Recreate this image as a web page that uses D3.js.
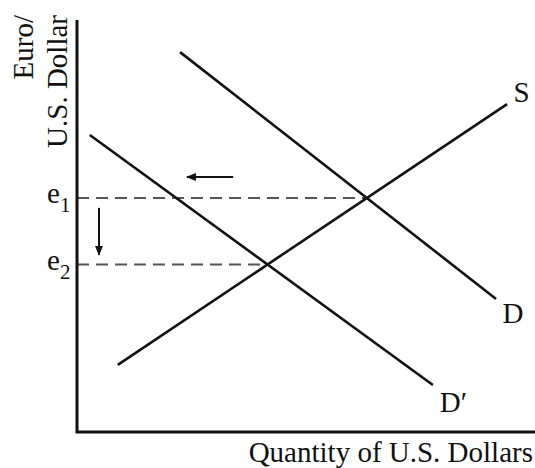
<!DOCTYPE html>
<html>
<head>
<meta charset="utf-8">
<script src="https://cdn.jsdelivr.net/npm/d3@7"></script>
<style>
  body { margin: 0; background: #fff; }
  text { font-family: "Liberation Serif", "Times New Roman", serif; fill: #111; }
</style>
</head>
<body>
<div id="chart"></div>
<script>
// curves in abstract units (0-100 on both axes)
var supply = [[8.9, 16.3], [93.9, 79.6]];
var demand = [[22.5, 92.2], [91.5, 32.3]];
var demandNew = [[2.8, 72.1], [77.7, 11.4]];
var curveLabels = [
    {text: "S", x: 95.3, y: 80.1},
    {text: "D", x: 92.9, y: 26.5},
    {text: "D\u2032", x: 79.2, y: 4.9}
];
var shiftArrow = [[34.1, 61.9], [24.0, 61.9]];
var dropArrow = [[4.8, 54.4], [4.8, 43.0]];

var width = 535;
var height = 468;

var svg = d3.select('#chart')
    .append('svg')
    .attr('width', width)
    .attr('height', height);

var x = d3.scaleLinear().domain([0, 100]).range([77, 535]);
var y = d3.scaleLinear().domain([0, 100]).range([432, 20]);

svg.append('defs').append('marker')
    .attr('id', 'head')
    .attr('viewBox', '0 0 10 10')
    .attr('refX', 9).attr('refY', 5)
    .attr('markerWidth', 5).attr('markerHeight', 5)
    .attr('markerUnits', 'strokeWidth')
    .attr('orient', 'auto')
    .append('path')
    .attr('d', 'M0,1 L10,5 L0,9 Z')
    .attr('fill', '#111');

function intersect(a, b) {
    var m1 = (a[1][1] - a[0][1]) / (a[1][0] - a[0][0]);
    var m2 = (b[1][1] - b[0][1]) / (b[1][0] - b[0][0]);
    var xi = (b[0][1] - a[0][1] + m1 * a[0][0] - m2 * b[0][0]) / (m1 - m2);
    return [xi, a[0][1] + m1 * (xi - a[0][0])];
}

var eq1 = intersect(supply, demand);
var eq2 = intersect(supply, demandNew);
var levels = [{name: "1", p: eq1}, {name: "2", p: eq2}];

var line = d3.line().x(d => x(d[0])).y(d => y(d[1]));

// dashed guides
svg.selectAll('.guide')
    .data(levels)
    .enter()
    .append('line')
    .attr('x1', x(0))
    .attr('x2', d => x(d.p[0]))
    .attr('y1', d => y(d.p[1]))
    .attr('y2', d => y(d.p[1]))
    .attr('stroke', '#555')
    .attr('stroke-width', 2)
    .attr('stroke-dasharray', '12,7');

svg.selectAll('.curve')
    .data([supply, demand, demandNew])
    .enter()
    .append('path')
    .attr('d', line)
    .attr('fill', 'none')
    .attr('stroke', '#111')
    .attr('stroke-width', 2.6);

// axes
svg.append('path')
    .attr('d', line([[0, 100], [0, 0], [100, 0]]))
    .attr('fill', 'none')
    .attr('stroke', '#111')
    .attr('stroke-width', 3);

// arrows
svg.selectAll('.arrow')
    .data([shiftArrow, dropArrow])
    .enter()
    .append('path')
    .attr('d', line)
    .attr('stroke', '#111')
    .attr('stroke-width', 2)
    .attr('marker-end', 'url(#head)');

svg.selectAll('.clabel')
    .data(curveLabels)
    .enter()
    .append('text')
    .attr('x', d => x(d.x))
    .attr('y', d => y(d.y))
    .style('font-size', '29px')
    .text(d => d.text);

// e1 / e2
var eText = svg.selectAll('.elabel')
    .data(levels)
    .enter()
    .append('text')
    .attr('x', 47)
    .attr('y', d => y(d.p[1]) + 5)
    .style('font-size', '29px');
eText.append('tspan').text('e');
eText.append('tspan')
    .attr('dy', 9)
    .style('font-size', '21px')
    .text(d => d.name);

// axis titles
svg.append('text')
    .attr('transform', 'translate(33,15) rotate(-90)')
    .attr('text-anchor', 'end')
    .style('font-size', '29px')
    .text('Euro/');

svg.append('text')
    .attr('transform', 'translate(67,15) rotate(-90)')
    .attr('text-anchor', 'end')
    .style('font-size', '29px')
    .text('U.S. Dollar');

svg.append('text')
    .attr('x', 533)
    .attr('y', 462)
    .attr('text-anchor', 'end')
    .style('font-size', '29px')
    .text('Quantity of U.S. Dollars');
</script>
</body>
</html>
